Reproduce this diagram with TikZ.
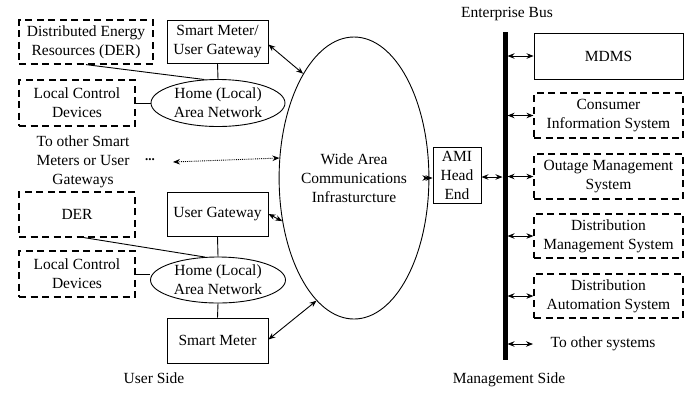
\documentclass[tikz,border=0pt]{standalone}
\usepackage{fontspec}
\setmainfont{Liberation Serif}
\usetikzlibrary{shapes.geometric,arrows.meta}
\begin{document}
\begin{tikzpicture}[x=1pt,y=-1pt, font=\fontsize{15.5}{19}\selectfont,
  box/.style={draw, line width=0.9pt, rectangle, inner sep=0pt, align=center},
  dbox/.style={box, dash pattern=on 7pt off 4.5pt, line width=1.2pt},
  ell/.style={draw, ellipse, inner sep=0pt, align=center, line width=0.9pt},
  link/.style={line width=0.9pt},
  tip/.tip={Stealth[length=7pt,width=5.5pt]},
  biarrow/.style={line width=0.9pt, tip-tip},
  plain/.style={inner sep=0pt, align=center}]
\useasboundingbox (0,0) rectangle (692,392);
% user side, upper
\node[dbox, minimum width=134pt, minimum height=44pt] (der1) at (86,42) {Distributed Energy\\Resources (DER)};
\node[box, minimum width=101pt, minimum height=43pt] (sm1) at (217.5,41.5) {Smart Meter/\\User Gateway};
\node[dbox, minimum width=116pt, minimum height=46pt] (lcd1) at (77,103) {Local Control\\Devices};
\node[ell, minimum width=134pt, minimum height=47pt] (lan1) at (218,103) {Home (Local)\\Area Network};
% wide area
\node[ell, minimum width=120pt, minimum height=282pt] (wan) at (354,178) {Wide Area\\Communications\\Infrasturcture};
% other meters
\node[plain] (other) at (83,162) {To other Smart\\Meters or User\\Gateways};
\node[plain, font=\fontsize{13}{13}\selectfont\bfseries] (dots) at (150,160) {...};
\coordinate (dotstart) at (173,162);
% user side, lower
\node[dbox, minimum width=116pt, minimum height=45pt] (der2) at (77,214.5) {DER};
\node[box, minimum width=101pt, minimum height=44pt] (ug) at (217.5,214) {User Gateway};
\node[dbox, minimum width=116pt, minimum height=46pt] (lcd2) at (77,274) {Local Control\\Devices};
\node[ell, minimum width=135pt, minimum height=46pt] (lan2) at (218,280) {Home (Local)\\Area Network};
\node[box, minimum width=101pt, minimum height=45pt] (sm2) at (217.5,340.5) {Smart Meter};
\node[plain] (userside) at (154,378) {User Side};
% management side
\node[box, minimum width=48pt, minimum height=56pt] (ami) at (457,175) {AMI\\Head\\End};
\coordinate (bustop) at (505,32);
\coordinate (busbot) at (505,360);
\node[plain] (ebus) at (507,14) {Enterprise Bus};
\node[plain] (mgmt) at (509,380) {Management Side};
\node[box, minimum width=149pt, minimum height=46pt] (mdms) at (608.5,56) {MDMS};
\node[dbox, minimum width=149pt, minimum height=45pt] (cis) at (608.5,115.5) {Consumer\\Information System};
\node[dbox, minimum width=149pt, minimum height=45pt] (oms) at (608.5,176.5) {Outage Management\\System};
\node[dbox, minimum width=149pt, minimum height=44pt] (dms) at (608.5,236) {Distribution\\Management System};
\node[dbox, minimum width=149pt, minimum height=44pt] (das) at (608.5,296) {Distribution\\Automation System};
\node[plain] (otxt) at (603,344) {To other systems};
\coordinate (otend) at (533,344);
% bus
\draw[line width=5pt] (bustop) -- (busbot);
% links
\draw[link] (der1.south) -- (lan1.120);
\draw[link] (sm1.south) -- (lan1.north);
\draw[link] (lcd1.east) -- (lan1.west);
\draw[link] ([xshift=7pt]der2.south) -- (lan2.120);
\draw[link] (ug.south) -- (lan2.north);
\draw[link] (lcd2.east) -- (lan2.west |- lcd2.east);
\draw[link] (lan2.south) -- (sm2.north);
% arrows
\draw[biarrow] ([yshift=-3pt]sm1.east) -- (wan.116);
\draw[biarrow] (ug.east) -- (wan.211);
\draw[biarrow] ([yshift=1pt]sm2.east) -- (wan.253);
\draw[biarrow, densely dotted] (dotstart) -- (wan.165);
\draw[biarrow] (wan.east) -- (wan.east -| ami.west);
\draw[biarrow, shorten >=2.5pt] ([yshift=-2pt]ami.east) -- ([yshift=-2pt]ami.east -| bustop);
\foreach \n in {mdms,cis,oms,dms,das}
  \draw[biarrow, shorten <=2.5pt] (\n.west -| bustop) -- (\n.west);
\draw[biarrow, shorten <=2.5pt] (otend -| bustop) -- (otend);
\end{tikzpicture}
\end{document}
